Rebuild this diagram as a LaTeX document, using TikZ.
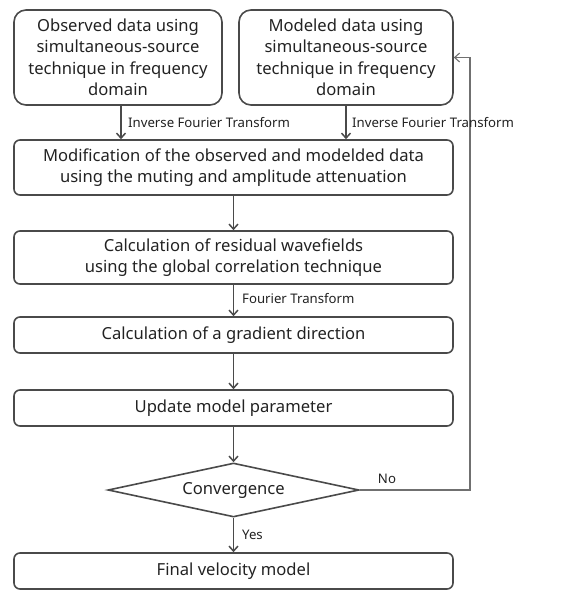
\documentclass[tikz,border=0pt]{standalone}
\usepackage{fontspec}
\setmainfont{Noto Sans}
\usetikzlibrary{shapes.geometric,arrows.meta}
\definecolor{linegray}{HTML}{4A4A4A}
\definecolor{fbgray}{HTML}{707070}
\definecolor{textgray}{HTML}{222222}
\tikzset{
  box/.style={draw=linegray, line width=1.6pt, rounded corners=6pt, align=center,
    text=textgray, font=\fontsize{16.6}{21.5}\selectfont, inner sep=0pt},
  topbox/.style={box, rounded corners=12pt},
  arr/.style={draw=linegray, line width=1.5pt, -{Straight Barb[length=5pt,width=9pt]}},
  fb/.style={draw=fbgray, line width=1.1pt, -{Straight Barb[length=5pt,width=9pt]}},
  lbl/.style={text=textgray, font=\fontsize{13.2}{15}\selectfont, inner sep=0pt},
  decision/.style={draw=linegray, line width=1.6pt, diamond, aspect=4.6, inner sep=0pt,
    text=textgray, font=\fontsize{16.6}{21}\selectfont}
}
\begin{document}
\begin{tikzpicture}[x=1pt,y=-1pt]
\useasboundingbox (0,0) rectangle (588,590);
\node[topbox, minimum width=208pt, minimum height=95pt] (b1) at (118,57.5)
  {Observed data using\\simultaneous-source\\technique in frequency\\domain};
\node[topbox, minimum width=214pt, minimum height=95pt] (b2) at (346,57.5)
  {Modeled data using\\simultaneous-source\\technique in frequency\\domain};
\node[box, minimum width=439pt, minimum height=55pt] (b3) at (233.5,167.5)
  {Modification of the observed and modelded data\\using the muting and amplitude attenuation};
\node[box, minimum width=439pt, minimum height=53pt] (b4) at (233.5,257.5)
  {Calculation of residual wavefields\\using the global correlation technique};
\node[box, minimum width=439pt, minimum height=36pt] (b5) at (233.5,335)
  {Calculation of a gradient direction};
\node[box, minimum width=439pt, minimum height=36pt] (b6) at (233.5,408)
  {Update model parameter};
\node[decision, minimum width=251pt, minimum height=54pt] (d) at (233.5,490)
  {Convergence};
\node[box, minimum width=439pt, minimum height=36pt] (b7) at (233.5,571)
  {Final velocity model};
\coordinate (s1) at (121,105);
\draw[arr] (s1) -- (s1 |- b3.north);
\draw[arr] (b2.south) -- (b2.south |- b3.north);
\draw[arr] (b3.south) -- (b4.north);
\draw[arr] (b4.south) -- (b5.north);
\draw[arr] (b5.south) -- (b6.north);
\draw[arr] (b6.south) -- (d.north);
\draw[arr] (d.south) -- (b7.north);
\coordinate (c1) at (470,490);
\coordinate (c2) at (470,57.5);
\draw[fb] (d.east) -- (c1) -- (c2) -- (b2.east);
\node[lbl, anchor=west] (l1) at (128,123) {Inverse Fourier Transform};
\node[lbl, anchor=west] (l2) at (352,123) {Inverse Fourier Transform};
\node[lbl, anchor=west] (l3) at (242,299) {Fourier Transform};
\node[lbl] (l4) at (387,479) {No};
\node[lbl, anchor=west] (l5) at (242,535) {Yes};
\end{tikzpicture}
\end{document}
